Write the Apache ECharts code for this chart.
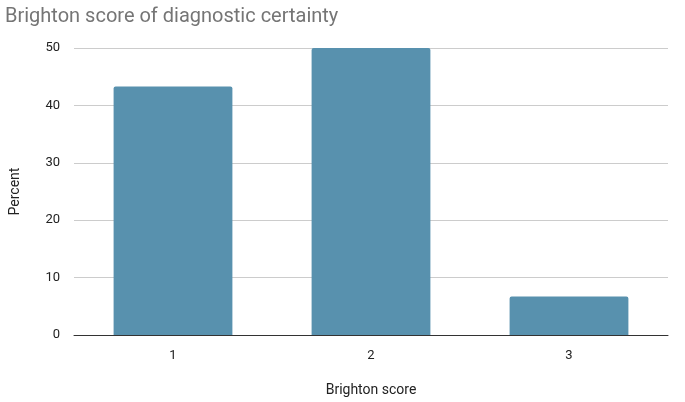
<!DOCTYPE html>
<html>
<head>
<meta charset="utf-8">
<script src="https://cdn.jsdelivr.net/npm/echarts@6/dist/echarts.min.js"></script>
<style>html,body{margin:0;padding:0;background:#fff}#chart{width:685px;height:402px}</style>
</head>
<body>
<div id="chart"></div>
<script>
const categories = ['1', '2', '3'];
const percentValues = [43.3, 50, 6.7];
const yTicks = [0, 10, 20, 30, 40, 50];

let myChart = echarts.init(document.getElementById('chart'));
let option = {
	title: {
		text: 'Brighton score of diagnostic certainty',
		left: 0,
		top: 2,
		textStyle: {fontFamily: 'Roboto', fontSize: 20, fontWeight: 'normal', color: '#757575'}
	},
	grid: {left: 70, right: 17, top: 48, bottom: 65},
	xAxis: {
		type: 'category',
		data: categories,
		name: 'Brighton score',
		nameLocation: 'middle',
		nameGap: 48,
		nameTextStyle: {fontFamily: 'Roboto', fontSize: 14, color: '#222'},
		axisTick: {show: false},
		axisLine: {lineStyle: {color: '#333'}},
		axisLabel: {fontFamily: 'Roboto', fontSize: 13, color: '#222', margin: 14}
	},
	yAxis: {
		type: 'value',
		min: yTicks[0],
		max: yTicks[yTicks.length - 1],
		interval: 10,
		name: 'Percent',
		nameLocation: 'middle',
		nameGap: 52,
		nameTextStyle: {fontFamily: 'Roboto', fontSize: 14, color: '#222'},
		axisLabel: {fontFamily: 'Roboto', fontSize: 13, color: '#222', margin: 14},
		splitLine: {lineStyle: {color: '#ccc'}}
	},
	series: [{
		type: 'bar',
		data: percentValues,
		barWidth: '60%',
		itemStyle: {color: '#5891ae', borderRadius: [2, 2, 0, 0]}
	}]
};
myChart.setOption(option, true);
</script>
</body>
</html>
